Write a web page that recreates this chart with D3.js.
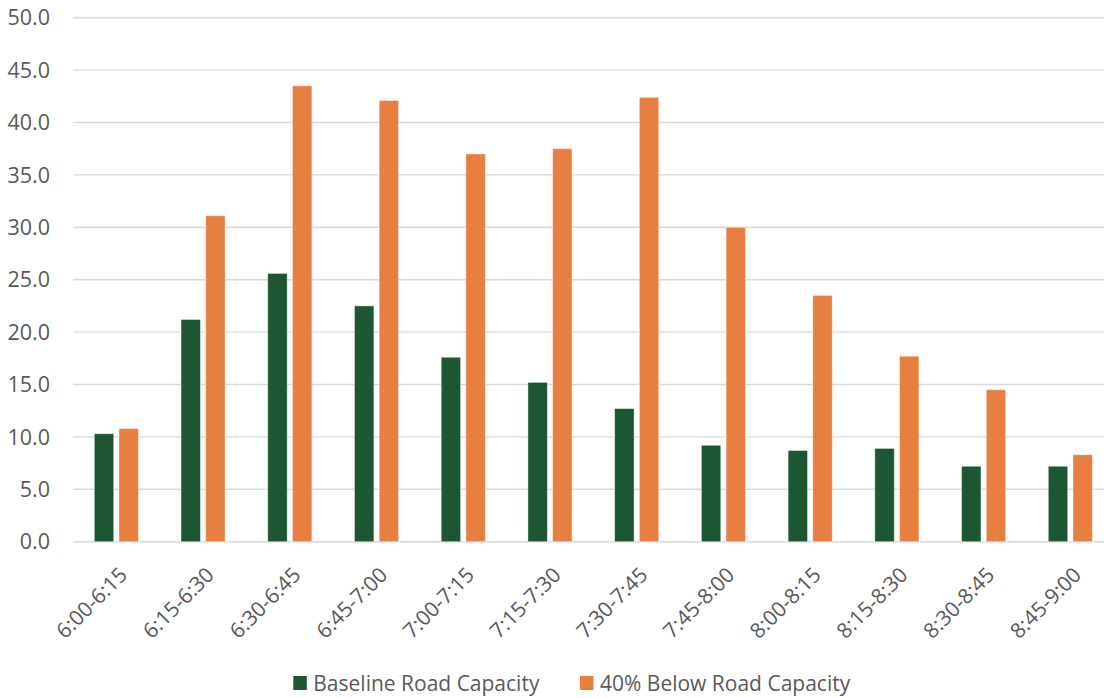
<!DOCTYPE html>
<html><head><meta charset="utf-8">
<script src="https://cdn.jsdelivr.net/npm/d3@7"></script>
<style>body{margin:0;background:#fff;} text{font-family:"Open Sans",sans-serif;fill:#595959;}</style>
</head><body><svg id="c" width="1104" height="698"></svg>
<script>
const categories = ["6:00-6:15","6:15-6:30","6:30-6:45","6:45-7:00","7:00-7:15","7:15-7:30","7:30-7:45","7:45-8:00","8:00-8:15","8:15-8:30","8:30-8:45","8:45-9:00"];
const baseline = [10.3,21.2,25.6,22.5,17.6,15.2,12.7,9.2,8.7,8.9,7.2,7.2];
const below40 = [10.8,31.1,43.5,42.1,37.0,37.5,42.4,30.0,23.5,17.7,14.5,8.3];
const seriesNames = ["Baseline Road Capacity","40% Below Road Capacity"];
const colors = ["#1c5632","#e67f40"];
const yTicks = [0,5,10,15,20,25,30,35,40,45,50];

const svg = d3.select("#c");
const pL = 73, pR = 1113.7, pT = 17.7, pB = 541.7;
const x = d3.scaleBand().domain(categories).range([pL,pR]).paddingInner(0).paddingOuter(0);
const y = d3.scaleLinear().domain([0,50]).range([pB,pT]);
const bw = 19.4, gap = 5.3;

// gridlines
svg.append("g").selectAll("line").data(yTicks).join("line")
  .attr("x1",pL).attr("x2",1104).attr("y1",d=>y(d)).attr("y2",d=>y(d))
  .attr("stroke","#d9d9d9").attr("stroke-width",1.4);

// y labels
svg.append("g").selectAll("text").data(yTicks).join("text")
  .attr("x",50).attr("y",d=>y(d)).attr("dy","0.36em").attr("text-anchor","end")
  .style("font-size","21.5px").text(d=>d3.format(".1f")(d));

const series = [baseline, below40];
series.forEach((vals,si)=>{
  svg.append("g").selectAll("rect").data(vals).join("rect")
    .attr("x",(d,i)=>x(categories[i]) + x.bandwidth()/2 + (si===0 ? -(bw+gap/2) : gap/2))
    .attr("width",bw)
    .attr("y",d=>y(d)).attr("height",d=>y(0)-y(d))
    .attr("fill",colors[si]).attr("stroke","#ffffff").attr("stroke-opacity",0.5).attr("stroke-width",0.8);
});

// x labels
svg.append("g").selectAll("text").data(categories).join("text")
  .attr("transform",d=>`translate(${x(d)+x.bandwidth()/2+7},${571}) rotate(-45)`)
  .attr("text-anchor","end").attr("dy","0.35em")
  .style("font-size","21px").text(d=>d);

// legend
const leg = svg.append("g");
const legX = [293.3, 580];
seriesNames.forEach((n,i)=>{
  leg.append("rect").attr("x",legX[i]).attr("y",676).attr("width",13.5).attr("height",14).attr("fill",colors[i]);
  leg.append("text").attr("x",legX[i]+20).attr("y",683).attr("dy","0.36em").style("font-size","21px").text(n);
});
</script></body></html>
